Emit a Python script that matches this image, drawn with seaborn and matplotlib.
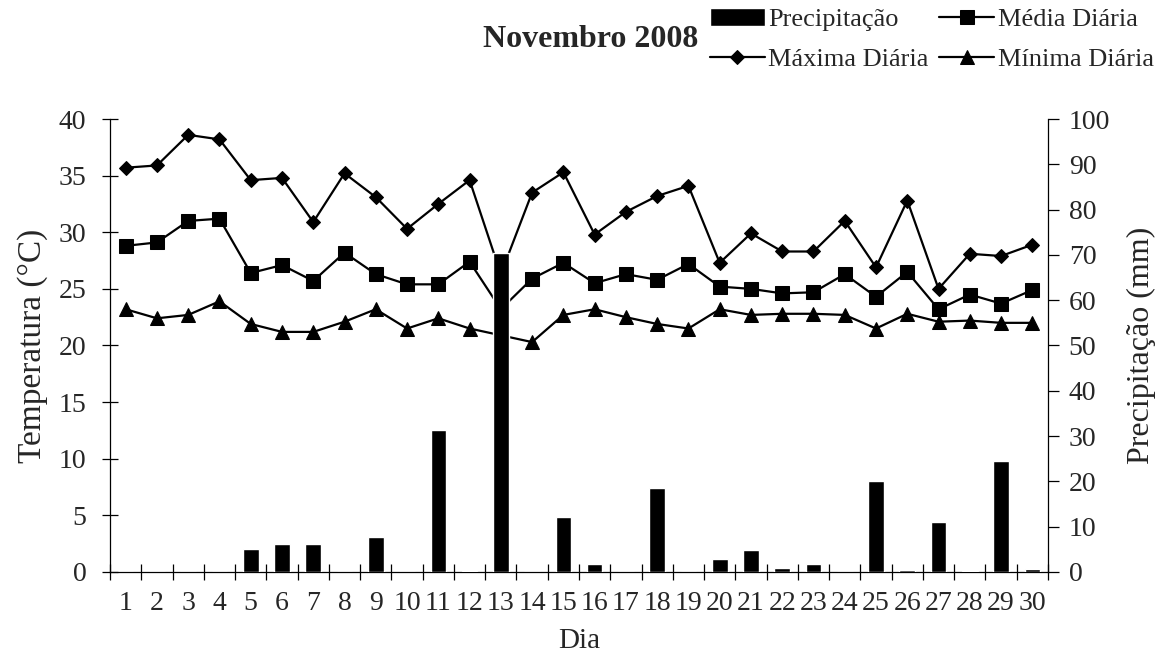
import numpy as np
import pandas as pd
import matplotlib
matplotlib.use("Agg")
import matplotlib.pyplot as plt
import seaborn as sns
from matplotlib.ticker import MultipleLocator, FixedLocator

sns.set_theme(style="white")
plt.rcParams['font.family'] = ['Liberation Serif', 'DejaVu Serif']

# --- data (Novembro 2008) ---
dias = list(range(1, 31))
precipitacao = [0, 0, 0, 0, 5.0, 6.2, 6.2, 0, 7.7, 0,
                31.4, 0.3, 70.5, 0, 12.1, 1.8, 0, 18.6, 0, 2.8,
                4.8, 0.8, 1.7, 0, 20.1, 0.5, 11.0, 0.3, 24.5, 0.6]
media = [28.8, 29.1, 31.0, 31.2, 26.4, 27.1, 25.7, 28.2, 26.3, 25.4,
         25.4, 27.4, 23.2, 25.9, 27.3, 25.5, 26.3, 25.8, 27.2, 25.2,
         25.0, 24.6, 24.7, 26.3, 24.3, 26.5, 23.2, 24.5, 23.7, 24.9]
maxima = [35.7, 35.9, 38.6, 38.2, 34.6, 34.8, 30.9, 35.2, 33.1, 30.3,
          32.5, 34.6, 26.3, 33.5, 35.3, 29.8, 31.8, 33.2, 34.1, 27.3,
          29.9, 28.3, 28.3, 31.0, 26.9, 32.8, 25.0, 28.1, 27.9, 28.9]
minima = [23.2, 22.4, 22.7, 23.9, 21.9, 21.2, 21.2, 22.1, 23.2, 21.5,
          22.4, 21.5, 20.9, 20.3, 22.7, 23.2, 22.5, 21.9, 21.5, 23.2,
          22.7, 22.8, 22.8, 22.7, 21.5, 22.8, 22.1, 22.2, 22.0, 22.0]

df = pd.DataFrame({"Dia": dias, "Precipitacao": precipitacao,
                   "Media": media, "Maxima": maxima, "Minima": minima})

fig = plt.figure(figsize=(11.67, 6.63), dpi=100)
ax = fig.add_axes([0.0943, 0.1373, 0.8037, 0.6832])
ax2 = ax.twinx()  # bars drawn over the lines, like the original

lw = 1.6
sns.lineplot(data=df, x="Dia", y="Maxima", ax=ax, color="black", lw=lw,
             marker="D", markersize=7.5, markeredgecolor="black", label="Máxima Diária")
sns.lineplot(data=df, x="Dia", y="Media", ax=ax, color="black", lw=lw,
             marker="s", markersize=10, markeredgecolor="black", label="Média Diária")
sns.lineplot(data=df, x="Dia", y="Minima", ax=ax, color="black", lw=lw,
             marker="^", markersize=10.5, markeredgecolor="black", label="Mínima Diária")

sns.barplot(data=df, x="Dia", y="Precipitacao", ax=ax2, native_scale=True,
            color="black", width=0.5, saturation=1, label="Precipitação")

# --- axes ---
ax.set_xlim(0.5, 30.5)
ax.set_ylim(0, 40)
ax2.set_ylim(0, 100)
ax.yaxis.set_major_locator(MultipleLocator(5))
ax2.yaxis.set_major_locator(MultipleLocator(10))
ax.xaxis.set_major_locator(FixedLocator(dias))
ax.set_xticklabels([str(d) for d in dias])
ax.xaxis.set_minor_locator(FixedLocator(np.arange(0.5, 31, 1)))
ax.tick_params(axis="x", which="major", length=0, pad=14, labelsize=20)
ax.tick_params(axis="x", which="minor", direction="inout", length=12, width=0.9, color="black", bottom=True)
ax.tick_params(axis="y", direction="inout", length=12, width=0.9, color="black", labelsize=20, pad=11, left=True)
ax2.tick_params(axis="y", direction="out", length=8, width=0.9, color="black", labelsize=20, pad=7, right=True)

for a in (ax, ax2):
    a.spines["top"].set_visible(False)
    for s in ("left", "right", "bottom"):
        a.spines[s].set_color("black")
        a.spines[s].set_linewidth(0.9)
    a.grid(False)
ax.spines["right"].set_visible(False)
ax2.spines["left"].set_visible(False)
ax2.spines["bottom"].set_visible(False)

ax.set_xlabel("Dia", fontsize=21, labelpad=8)
ax.set_ylabel("Temperatura (°C)", fontsize=24, labelpad=8)
ax2.set_ylabel("Precipitação (mm)", fontsize=23, labelpad=12)

# --- title + legend ---
h1, l1 = ax.get_legend_handles_labels()
h2, l2 = ax2.get_legend_handles_labels()
if ax.get_legend():
    ax.get_legend().remove()
if ax2.get_legend():
    ax2.get_legend().remove()
hd = dict(zip(l1 + l2, h1 + h2))
order = ["Precipitação", "Máxima Diária", "Média Diária", "Mínima Diária"]
fig.legend([hd[k] for k in order], order, loc="upper left", ncol=2,
           bbox_to_anchor=(0.608, 0.988), frameon=False, fontsize=19,
           handlelength=2.1, handletextpad=0.12, columnspacing=0.4,
           labelspacing=0.62, borderaxespad=0, borderpad=0)
fig.text(0.414, 0.940, "Novembro 2008", fontsize=23, fontweight="bold", va="center", ha="left")

fig.savefig("out.png", dpi=100)
